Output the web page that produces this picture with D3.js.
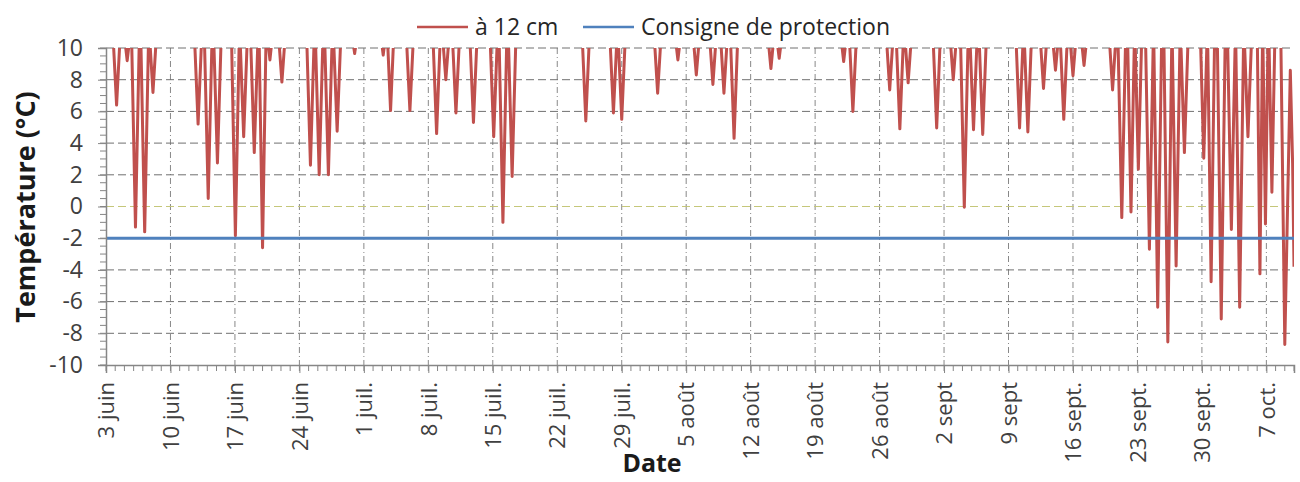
<!DOCTYPE html>
<html>
<head>
<meta charset="utf-8">
<script src="https://cdn.jsdelivr.net/npm/d3@7"></script>
<style>
  body { margin: 0; background: #fff; }
  text { font-family: "Open Sans", Lato, sans-serif; }
</style>
</head>
<body>
<div id="chart"></div>
<script>
// temperature a 12 cm : nightly minima (day offset from 3 juin, degC)
var dipDay = [1.15, 2.3, 3.2, 4.2, 5.1, 10.0, 11.1, 12.1, 14.05, 14.95, 16.1, 17.0, 17.8, 19.1,
              22.2, 23.15, 24.15, 25.1, 27.0, 30.1, 30.9, 33.0, 35.9, 36.9, 38.0, 39.9,
              42.1, 43.1, 44.1, 52.1, 55.1, 56.0, 59.9, 62.1,
              64.1, 65.9, 67.1, 68.2, 72.2, 73.1, 80.1, 81.1,
              85.1, 86.2, 87.1, 90.2, 92.0, 93.2, 94.2, 95.2, 99.2, 100.1, 101.8, 103.1, 104.0, 105.0, 106.2,
              109.3, 110.3, 111.3, 112.1, 113.3, 114.2, 115.3, 116.2, 117.1, 119.2, 120.0, 121.1,
              122.2, 123.1, 124.0, 125.3, 125.9, 126.6, 128.0];
var dipTemp = [6.4, 9.2, -1.3, -1.6, 7.2, 5.2, 0.5, 2.75, -1.85, 4.4, 3.4, -2.6, 9.25, 7.85,
               2.6, 2.0, 2.0, 4.75, 9.65, 9.55, 6.05, 6.05, 4.6, 8.0, 5.9, 5.3,
               4.4, -1.0, 1.9, 5.4, 5.9, 5.5, 7.15, 9.25,
               8.3, 7.7, 7.15, 4.3, 8.7, 9.35, 9.15, 6.0,
               7.35, 4.9, 7.8, 4.95, 8.0, -0.05, 4.85, 4.55, 4.95, 4.7, 7.45, 8.6, 5.5, 8.25, 8.9,
               7.35, -0.7, -0.35, 2.35, -2.7, -6.35, -8.55, -3.75, 3.4, 3.05, -4.75, -7.1,
               -1.45, -6.35, 4.4, -4.25, -1.1, 0.9, -8.7];
// last readings after the final minimum
var tailDay = [128.6, 128.85, 129.0];
var tailTemp = [8.6, 2.7, -3.8];
var dayPeak = 11.5;    // afternoon values, above the axis maximum
var consigne = -2;

var tickLabels = ["3 juin", "10 juin", "17 juin", "24 juin", "1 juil.", "8 juil.", "15 juil.",
                  "22 juil.", "29 juil.", "5 août", "12 août", "19 août", "26 août", "2 sept",
                  "9 sept", "16 sept.", "23 sept.", "30 sept.", "7 oct."];
var yTicks = [-10, -8, -6, -4, -2, 0, 2, 4, 6, 8, 10];

var width = 1300, height = 482;
var margin = {top: 48, right: 6, bottom: 117, left: 106};
var plotW = width - margin.left - margin.right,
    plotH = height - margin.top - margin.bottom;

var start = new Date(Date.UTC(2019, 5, 3));
var end = new Date(Date.UTC(2019, 9, 10));
function dayToDate(d) { return new Date(start.getTime() + d * 864e5); }

var x = d3.scaleUtc().domain([start, end]).range([0, plotW]);
var y = d3.scaleLinear().domain([-10, 10]).range([plotH, 0]);

var svg = d3.select("#chart").append("svg")
    .attr("width", width).attr("height", height);
var g = svg.append("g").attr("transform", "translate(" + margin.left + "," + margin.top + ")");

// gridlines
var weekTicks = tickLabels.map(function(t, i) { return dayToDate(i * 7); });
g.append("g").selectAll("line").data(weekTicks.slice(1)).enter().append("line")
    .attr("x1", function(d) { return x(d); }).attr("x2", function(d) { return x(d); })
    .attr("y1", 0).attr("y2", plotH)
    .style("stroke", "#888").style("stroke-width", 1)
    .style("stroke-dasharray", "6,3,1,3");
g.append("g").selectAll("line").data(yTicks.filter(function(v) { return v != -10; })).enter().append("line")
    .attr("x1", 0).attr("x2", plotW)
    .attr("y1", function(d) { return y(d); }).attr("y2", function(d) { return y(d); })
    .style("stroke", function(d) { return d == 0 ? "#c5c77a" : "#707070"; })
    .style("stroke-width", 1)
    .style("stroke-dasharray", "8,4");

// series
var pts = [[0, dayPeak]];
for (var i = 0; i < dipDay.length; i++) {
    var prev = i > 0 ? dipDay[i] - dipDay[i - 1] : 1;
    var next = i < dipDay.length - 1 ? dipDay[i + 1] - dipDay[i] : 1;
    var w = Math.min(0.45, prev / 2, next / 2);
    pts.push([dipDay[i] - w, dayPeak]);
    pts.push([dipDay[i], dipTemp[i]]);
    if (i < dipDay.length - 1) pts.push([dipDay[i] + w, dayPeak]);
}
for (var j = 0; j < tailDay.length; j++) pts.push([tailDay[j], tailTemp[j]]);

svg.append("clipPath").attr("id", "clip").append("rect")
    .attr("x", 0).attr("y", 0).attr("width", plotW).attr("height", plotH);

var line = d3.line()
    .x(function(d) { return x(dayToDate(d[0])); })
    .y(function(d) { return y(d[1]); });

g.append("path").datum(pts)
    .attr("clip-path", "url(#clip)")
    .attr("d", line)
    .style("fill", "none").style("stroke", "#c0504d")
    .style("stroke-width", 3).style("stroke-linejoin", "round");

g.append("line")
    .attr("x1", 0).attr("x2", plotW)
    .attr("y1", y(consigne)).attr("y2", y(consigne))
    .style("stroke", "#4f81bd").style("stroke-width", 3);

// y axis
var yMinor = d3.range(-10, 10.01, 0.5);
var yAxis = g.append("g").call(d3.axisLeft(y).tickValues(yTicks).tickSize(8).tickPadding(15)
    .tickFormat(function(d) { return String(d); }));
yAxis.append("g").selectAll("line").data(yMinor).enter().append("line")
    .attr("x1", -6).attr("x2", 0)
    .attr("y1", function(d) { return y(d); }).attr("y2", function(d) { return y(d); });
yAxis.selectAll("line").style("stroke", "#868686");
yAxis.select(".domain").style("stroke", "#868686").style("stroke-width", 1.5);
yAxis.selectAll(".tick text").style("font-size", "23px").style("fill", "#404040")
    .style("font-family", "'Open Sans', sans-serif");

// x axis
var xAxis = g.append("g").attr("transform", "translate(0," + plotH + ")")
    .call(d3.axisBottom(x).tickValues(weekTicks).tickSize(8)
        .tickFormat(function(d, i) { return tickLabels[i]; }));
xAxis.append("g").selectAll("line").data(d3.range(0, 130)).enter().append("line")
    .attr("x1", function(d) { return x(dayToDate(d)); }).attr("x2", function(d) { return x(dayToDate(d)); })
    .attr("y1", 0).attr("y2", 6);
xAxis.selectAll("line").style("stroke", "#868686");
xAxis.select(".domain").style("stroke", "#868686").style("stroke-width", 1.5);
xAxis.selectAll(".tick text")
    .style("font-size", "22px").style("fill", "#404040").style("font-family", "'Open Sans', sans-serif")
    .attr("text-anchor", "end")
    .attr("transform", "rotate(-90)")
    .attr("x", -17).attr("y", 0).attr("dy", "0.35em");

// titles
svg.append("text").attr("x", 652).attr("y", 472)
    .attr("text-anchor", "middle")
    .style("font-size", "25px").style("font-weight", "bold").style("fill", "#1a1a1a")
    .text("Date");
svg.append("text")
    .attr("transform", "translate(35," + 207 + ") rotate(-90)")
    .attr("text-anchor", "middle")
    .style("font-size", "27px").style("font-weight", "bold").style("fill", "#1a1a1a")
    .text("Température (°C)");

// legend
var legend = [{name: "à 12 cm", color: "#c0504d", x: 417}, {name: "Consigne de protection", color: "#4f81bd", x: 583}];
var lg = svg.append("g").selectAll("g").data(legend).enter().append("g");
lg.append("line")
    .attr("x1", function(d) { return d.x; }).attr("x2", function(d) { return d.x + 51; })
    .attr("y1", 27).attr("y2", 27)
    .style("stroke", function(d) { return d.color; }).style("stroke-width", 2.6);
lg.append("text")
    .attr("x", function(d) { return d.x + 58; }).attr("y", 35)
    .style("font-size", "23px").style("fill", "#262626")
    .text(function(d) { return d.name; });
</script>
</body>
</html>
